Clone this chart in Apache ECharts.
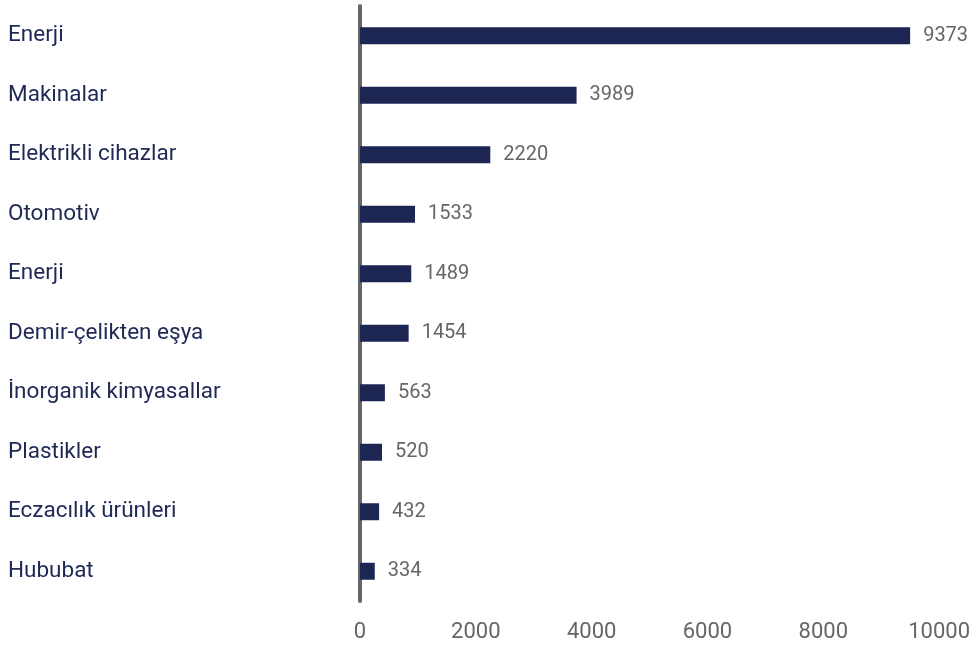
<!DOCTYPE html>
<html>
<head>
<meta charset="utf-8">
<script src="https://cdn.jsdelivr.net/npm/echarts@6/dist/echarts.min.js"></script>
<style>
  html, body { margin: 0; padding: 0; background: #fff; }
  #chart { width: 973px; height: 647px; }
</style>
</head>
<body>
<div id="chart"></div>
<script>
// kategoriler (yukarıdan aşağıya)
const categories = [
  'Enerji', 'Makinalar', 'Elektrikli cihazlar', 'Otomotiv', 'Enerji',
  'Demir-çelikten eşya', 'İnorganik kimyasallar', 'Plastikler',
  'Eczacılık ürünleri', 'Hububat'
]
// çubukların üzerine yazılı değerler
const labelValues = [9373, 3989, 2220, 1533, 1489, 1454, 563, 520, 432, 334]
// çubuk uzunlukları, resimden okunduğu gibi (kaynakta yazılı değerlerle birebir değil)
const barValues = [9500, 3740, 2250, 950, 885, 840, 430, 380, 330, 255]
const xTicks = [0, 2000, 4000, 6000, 8000, 10000]

const font = 'Roboto, sans-serif'
const chart = echarts.init(document.getElementById('chart'))

chart.setOption({
  animation: false,
  grid: { left: 360, right: 28, top: 6, bottom: 46, containLabel: false },
  xAxis: {
    type: 'value',
    min: xTicks[0],
    max: xTicks[xTicks.length - 1],
    interval: 2000,
    axisLine: { show: false },
    axisTick: { show: false },
    splitLine: { show: false },
    axisLabel: {
      color: '#666',
      fontSize: 22,
      fontFamily: font,
      margin: 20,
      formatter: v => String(v)
    }
  },
  yAxis: {
    type: 'category',
    inverse: true,
    data: categories,
    axisLine: { show: true, lineStyle: { color: '#666', width: 4 } },
    axisTick: { show: false },
    axisLabel: {
      align: 'left',
      margin: 352,
      color: '#1f2955',
      fontSize: 22.5,
      fontFamily: font
    }
  },
  series: [{
    type: 'bar',
    data: barValues,
    barWidth: 17,
    z: 1,
    itemStyle: { color: '#1d2553' },
    label: {
      show: true,
      position: 'right',
      distance: 13,
      color: '#666',
      fontSize: 20,
      fontFamily: font,
      formatter: p => String(labelValues[p.dataIndex])
    }
  }]
})
</script>
</body>
</html>
